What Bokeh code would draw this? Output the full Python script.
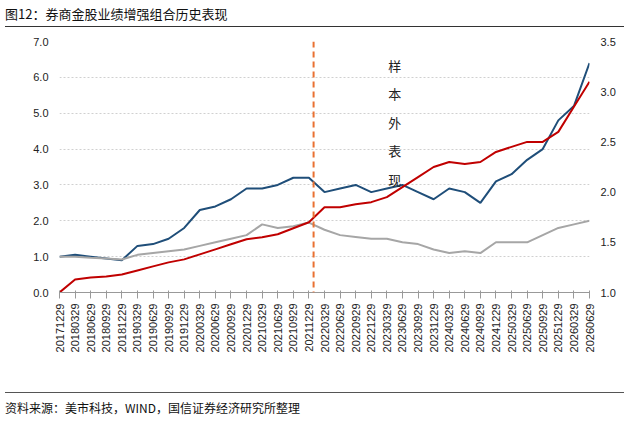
import math
from bokeh.plotting import figure
from bokeh.models import Range1d, LinearAxis, Span, Legend, LegendItem, Div, FixedTicker, PrintfTickFormatter
from bokeh.layouts import column
from bokeh.core.properties import value
from bokeh.embed import file_html
from bokeh.resources import INLINE

dates = ["20171229","20180329","20180629","20180929","20181229","20190329","20190629","20190929","20191229",
         "20200329","20200629","20200929","20201229","20210329","20210629","20210929","20211229",
         "20220329","20220629","20220929","20221229","20230329","20230629","20230929","20231229",
         "20240329","20240629","20240929","20241229","20250329","20250629","20250929","20251229",
         "20260329","20260629"]
blue = [1.0,1.05,1.0,0.95,0.9,1.3,1.35,1.5,1.8,2.3,2.4,2.6,2.9,2.9,3.0,3.2,3.2,
        2.8,2.9,3.0,2.8,2.9,3.0,2.8,2.6,2.9,2.8,2.5,3.1,3.3,3.7,4.0,4.8,5.2,6.4]
grey = [1.0,1.0,0.97,0.95,0.92,1.05,1.1,1.15,1.2,1.3,1.4,1.5,1.6,1.9,1.8,1.85,1.95,
        1.75,1.6,1.55,1.5,1.5,1.4,1.35,1.2,1.1,1.15,1.1,1.4,1.4,1.4,1.6,1.8,1.9,2.0]
red = [1.0,1.13,1.15,1.16,1.18,1.22,1.26,1.3,1.33,1.38,1.43,1.48,1.53,1.55,1.58,1.64,1.70,
       1.85,1.85,1.88,1.9,1.95,2.05,2.15,2.25,2.3,2.28,2.3,2.4,2.45,2.5,2.5,2.6,2.85,3.1]
oos_start = 16.3
x = list(range(len(dates)))

p = figure(width=619, height=355, output_backend="svg", toolbar_location=None,
           x_range=Range1d(0, len(dates)-1), y_range=Range1d(0, 7),
           min_border_left=59, min_border_right=30, min_border_top=9, min_border_bottom=95)
p.extra_y_ranges = {"r": Range1d(1.0, 3.5)}
p.outline_line_color = None
p.xgrid.grid_line_color = None
p.ygrid.grid_line_color = "#d0d0d0"
p.ygrid.grid_line_dash = "2 2"
p.yaxis.ticker = FixedTicker(ticks=[0,1,2,3,4,5,6,7])
p.yaxis.formatter = PrintfTickFormatter(format="%.1f")
p.yaxis.axis_line_color = None
p.yaxis.major_tick_line_color = None
p.yaxis.minor_tick_line_color = None
ra = LinearAxis(y_range_name="r", ticker=FixedTicker(ticks=[1.0,1.5,2.0,2.5,3.0,3.5]),
                formatter=PrintfTickFormatter(format="%.1f"))
ra.axis_line_color = None; ra.major_tick_line_color = None; ra.minor_tick_line_color = None
p.add_layout(ra, "right")
p.xaxis.ticker = FixedTicker(ticks=x)
p.xaxis.major_label_overrides = {i: d for i, d in enumerate(dates)}
p.xaxis.major_label_orientation = math.pi/2
p.xaxis.minor_tick_line_color = None
p.xaxis.axis_line_color = "#999999"
p.xaxis.major_tick_line_color = "#999999"
for ax in [p.xaxis[0], p.yaxis[0], ra]:
    ax.major_label_text_font = "Liberation Sans"
    ax.major_label_text_font_size = "11px"
    ax.major_label_text_color = "#222222"

r1 = p.line(x, blue, line_color="#1f4e79", line_width=2)
r2 = p.line(x, grey, line_color="#a6a6a6", line_width=2)
r3 = p.line(x, red, line_color="#c00000", line_width=2, y_range_name="r")
p.add_layout(Span(location=oos_start, dimension="height", line_color="#e97132",
                  line_dash="6 4", line_width=2))
p.text(x=[21.5], y=[6.6], text=["样\n本\n外\n表\n现"], text_font=value("Noto Sans CJK SC"),
       text_font_size="13px", text_align="center", text_baseline="top", text_line_height=1.5,
       text_color="#222222")
leg = Legend(items=[LegendItem(label="券商金股增强组合(带仓位)", renderers=[r1]),
                    LegendItem(label="偏股混合型基金指数", renderers=[r2]),
                    LegendItem(label="相对强弱(右轴)", renderers=[r3])],
             orientation="horizontal", location=(22, -88), border_line_color=None,
             background_fill_alpha=0,
             label_text_font="Noto Sans CJK SC", label_text_font_size="11px",
             glyph_width=30, spacing=22, padding=0, margin=0)
p.add_layout(leg, "center")

title = Div(text="图12：券商金股业绩增强组合历史表现", width=619, height=22,
            styles={"font-family": "Noto Sans CJK SC", "font-size": "13px", "color": "#111",
                    "border-bottom": "1.5px solid #333", "width": "619px", "padding-bottom": "3px"})
foot = Div(text="资料来源：美市科技，WIND，国信证券经济研究所整理", width=619, height=24,
           styles={"font-family": "Noto Sans CJK SC", "font-size": "12px", "color": "#111",
                   "border-top": "1px solid #555", "width": "619px", "padding-top": "6px"})
lay = column(title, p, foot, spacing=0)
open("out.html", "w").write(file_html(lay, INLINE))
